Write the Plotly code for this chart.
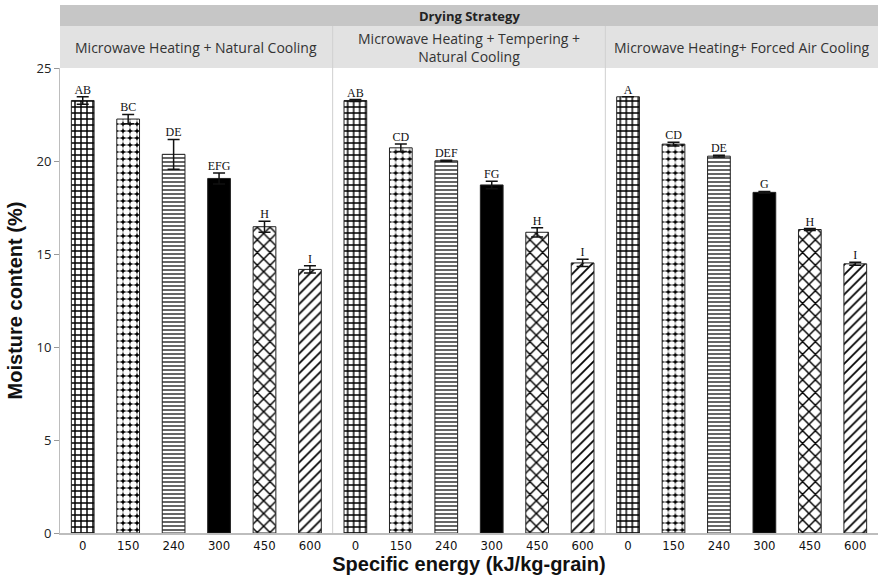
import plotly.graph_objects as go
from plotly.subplots import make_subplots

energies = ["0", "150", "240", "300", "450", "600"]
strategies = [
    "Microwave Heating + Natural Cooling",
    "Microwave Heating + Tempering +<br>Natural Cooling",
    "Microwave Heating+ Forced Air Cooling",
]
mc_natural = [23.3, 22.3, 20.4, 19.1, 16.5, 14.2]
err_natural = [0.2, 0.25, 0.8, 0.3, 0.3, 0.2]
lab_natural = ["AB", "BC", "DE", "EFG", "H", "I"]

mc_temper = [23.3, 20.75, 20.05, 18.75, 16.2, 14.55]
err_temper = [0.05, 0.2, 0.03, 0.2, 0.25, 0.2]
lab_temper = ["AB", "CD", "DEF", "FG", "H", "I"]

mc_forced = [23.5, 20.95, 20.3, 18.35, 16.35, 14.5]
err_forced = [0.0, 0.1, 0.05, 0.05, 0.05, 0.08]
lab_forced = ["A", "CD", "DE", "G", "H", "I"]

means = [mc_natural, mc_temper, mc_forced]
errs = [err_natural, err_temper, err_forced]
labels = [lab_natural, lab_temper, lab_forced]

# pattern per energy level
pat_shape = ["+", ".", "-", ".", "x", "/"]
pat_fg = ["black", "white", "black", "black", "black", "black"]
pat_bg = ["white", "black", "white", "black", "white", "white"]
pat_size = [6, 7, 4, 6, 9, 7]
pat_sol = [0.42, 0.7, 0.3, 0.3, 0.3, 0.25]

fig = make_subplots(rows=1, cols=3, shared_yaxes=True, horizontal_spacing=0)

for i in range(3):
    fig.add_trace(go.Bar(
        x=energies, y=means[i],
        error_y=dict(type="data", array=errs[i], visible=True, color="#111",
                     thickness=1.5, width=6),
        marker=dict(color="white", line=dict(color="#222", width=1),
                    pattern=dict(shape=pat_shape, fgcolor=pat_fg, bgcolor=pat_bg,
                                 size=pat_size, solidity=pat_sol, fillmode="replace")),
        width=0.5, showlegend=False, hoverinfo="x+y"),
        row=1, col=i + 1)
    fig.add_trace(go.Scatter(
        x=energies, y=[m + e for m, e in zip(means[i], errs[i])],
        mode="text", text=labels[i], textposition="top center",
        textfont=dict(family="Liberation Serif", size=12, color="#111"),
        showlegend=False, hoverinfo="skip"),
        row=1, col=i + 1)

strip_h = 42 / 465
top_h = 21 / 465
shapes = []
shapes.append(dict(type="rect", xref="paper", yref="paper", x0=0, x1=1,
                   y0=1 + strip_h, y1=1 + strip_h + top_h,
                   fillcolor="#c6c6c6", line=dict(width=0), layer="below"))
for i in range(3):
    shapes.append(dict(type="rect", xref="paper", yref="paper", x0=i / 3, x1=(i + 1) / 3,
                       y0=1, y1=1 + strip_h, fillcolor="#e2e2e2",
                       line=dict(width=0), layer="below"))
for i in range(1, 3):
    shapes.append(dict(type="line", xref="paper", yref="paper", x0=i / 3, x1=i / 3,
                       y0=0, y1=1 + strip_h, line=dict(color="#cfcfcf", width=1)))

annotations = [dict(text="<b>Drying Strategy</b>", xref="paper", yref="paper",
                    x=0.5, y=1 + strip_h + top_h / 2, showarrow=False,
                    xanchor="center", yanchor="middle",
                    font=dict(family="Open Sans", size=13, color="#222"))]
for i in range(3):
    annotations.append(dict(text=strategies[i], xref="paper", yref="paper",
                            x=(i + 0.5) / 3, y=1 + strip_h / 2, showarrow=False,
                            xanchor="center", yanchor="middle",
                            font=dict(family="Open Sans", size=14, color="#333")))

fig.update_layout(
    width=878, height=583,
    margin=dict(l=60, r=0, t=68, b=50, autoexpand=False),
    plot_bgcolor="white", paper_bgcolor="white",
    shapes=shapes, annotations=annotations,
    bargap=0.5,
)
fig.update_xaxes(type="category", showline=True, linecolor="#bdbdbd", linewidth=1.5,
                 ticks="", showgrid=False, automargin=False,
                 tickfont=dict(family="DejaVu Sans Condensed", size=13, color="#111"))
fig.update_xaxes(title=dict(text="<b>Specific energy (kJ/kg-grain)</b>", standoff=4,
                            font=dict(family="Liberation Sans", size=20, color="#111")),
                 row=1, col=2)
fig.update_yaxes(range=[0, 25.05], showgrid=False, zeroline=False, automargin=False)
fig.update_yaxes(showline=True, linecolor="#bdbdbd", linewidth=1, ticks="outside",
                 ticklen=5, tickcolor="#999", tickvals=[0, 5, 10, 15, 20, 25],
                 tickfont=dict(family="Open Sans", size=13, color="#222"),
                 title=dict(text="<b>Moisture content (%)</b>", standoff=8,
                            font=dict(family="Liberation Sans", size=20, color="#111")),
                 row=1, col=1)

fig.write_html("out.html", config={"displayModeBar": False},
               post_script="document.body.style.margin='0';")
